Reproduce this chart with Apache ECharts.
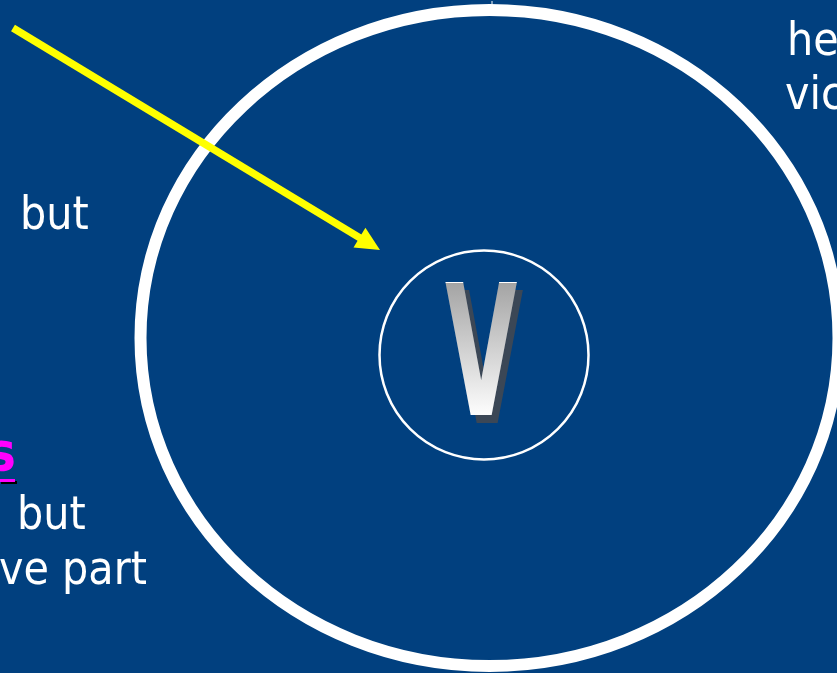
<!DOCTYPE html>
<html>
<head>
<meta charset="utf-8">
<script src="https://cdn.jsdelivr.net/npm/echarts@6/dist/echarts.min.js"></script>
<style>html,body{margin:0;padding:0;background:#01407F;}#c{width:837px;height:673px;background:#01407F;}</style>
</head>
<body>
<div id="c"></div>
<script>
// Text content of the (cropped) slide
var leftLines = ['but', 'but', 've part'];
var emphasisWord = 's';
var rightLines = ['he', 'vic'];
var centerLetter = 'V';

var FONT = '"DejaVu Sans Condensed", "DejaVu Sans", sans-serif';
var FS = 46;
function txt(str, x, baseline, opts) {
  opts = opts || {};
  var fs = opts.fs || FS;
  return {
    type: 'text', z: 10,
    style: Object.assign({
      text: str, x: x, y: baseline - 0.32 * fs,
      font: (opts.weight || 'normal') + ' ' + fs + 'px ' + FONT,
      fill: '#ffffff', textAlign: opts.align || 'left', textVerticalAlign: 'middle'
    }, opts.style || {})
  };
}

var chart = echarts.init(document.getElementById('c'), null, {renderer: 'canvas'});
var tip = [380, 250], start = [13, 28];
var dx = tip[0] - start[0], dy = tip[1] - start[1], L = Math.sqrt(dx * dx + dy * dy);
var ux = dx / L, uy = dy / L, nx = -uy, ny = ux;
var headLen = 24, headHalf = 11.5;
var bc = [tip[0] - headLen * ux, tip[1] - headLen * uy];

var vGrad = new echarts.graphic.LinearGradient(0, 0, 0, 1, [
  {offset: 0, color: '#a4a4a4'}, {offset: 1, color: '#ffffff'}
]);
var vFont = 'bold 182px "Liberation Sans Narrow", "DejaVu Sans Condensed", sans-serif';

chart.setOption({
  backgroundColor: 'transparent',
  graphic: [
    {type: 'ellipse', z: 1, shape: {cx: 489.5, cy: 338, rx: 349, ry: 328},
      style: {fill: 'none', stroke: '#ffffff', lineWidth: 12}},
    {type: 'line', z: 1, shape: {x1: 492, y1: 1, x2: 492, y2: 5}, style: {stroke: '#ffffff', lineWidth: 1}},
    {type: 'circle', z: 1, shape: {cx: 484, cy: 355, r: 104.5},
      style: {fill: 'none', stroke: '#ffffff', lineWidth: 2.5}},
    // V shadow (base layer)
    {type: 'text', z: 4, x: 487, y: 376, scaleX: 0.57,
      style: {text: centerLetter, x: 0, y: 0, font: vFont, fill: '#3b4756', textAlign: 'center', textVerticalAlign: 'middle'}},
    // V on its own layer, gradient painted onto the glyph only
    {type: 'text', zlevel: 1, z: 5, x: 481, y: 368, scaleX: 0.57,
      style: {text: centerLetter, x: 0, y: 0, font: vFont, fill: '#ffffff', textAlign: 'center', textVerticalAlign: 'middle'}},
    {type: 'rect', zlevel: 1, z: 6, shape: {x: 430, y: 283, width: 100, height: 135},
      style: {fill: vGrad, blend: 'source-atop'}},
    // arrow
    {type: 'line', z: 20, shape: {x1: start[0], y1: start[1], x2: bc[0] + ux, y2: bc[1] + uy},
      style: {stroke: '#ffff00', lineWidth: 7.5, lineCap: 'butt'}},
    {type: 'polygon', z: 20, shape: {points: [tip, [bc[0] + headHalf * nx, bc[1] + headHalf * ny], [bc[0] - headHalf * nx, bc[1] - headHalf * ny]]},
      style: {fill: '#ffff00'}},
    // left texts
    txt(leftLines[0], 20, 232),
    txt(emphasisWord, 16, 473, {weight: 'bold', align: 'right', fs: 54,
      style: {fill: '#ff00ff', textShadowColor: '#000000', textShadowOffsetX: 2, textShadowOffsetY: 2, textShadowBlur: 0}}),
    {type: 'rect', z: 9, shape: {x: 1, y: 481, width: 16, height: 3}, style: {fill: '#000000'}},
    {type: 'rect', z: 10, shape: {x: -1, y: 479, width: 16, height: 3}, style: {fill: '#ff00ff'}},
    txt(leftLines[1], 17, 532),
    txt(leftLines[2], -1, 587),
    // right texts
    txt(rightLines[0], 787, 58),
    txt(rightLines[1], 785, 112)
  ]
});
</script>
</body>
</html>
